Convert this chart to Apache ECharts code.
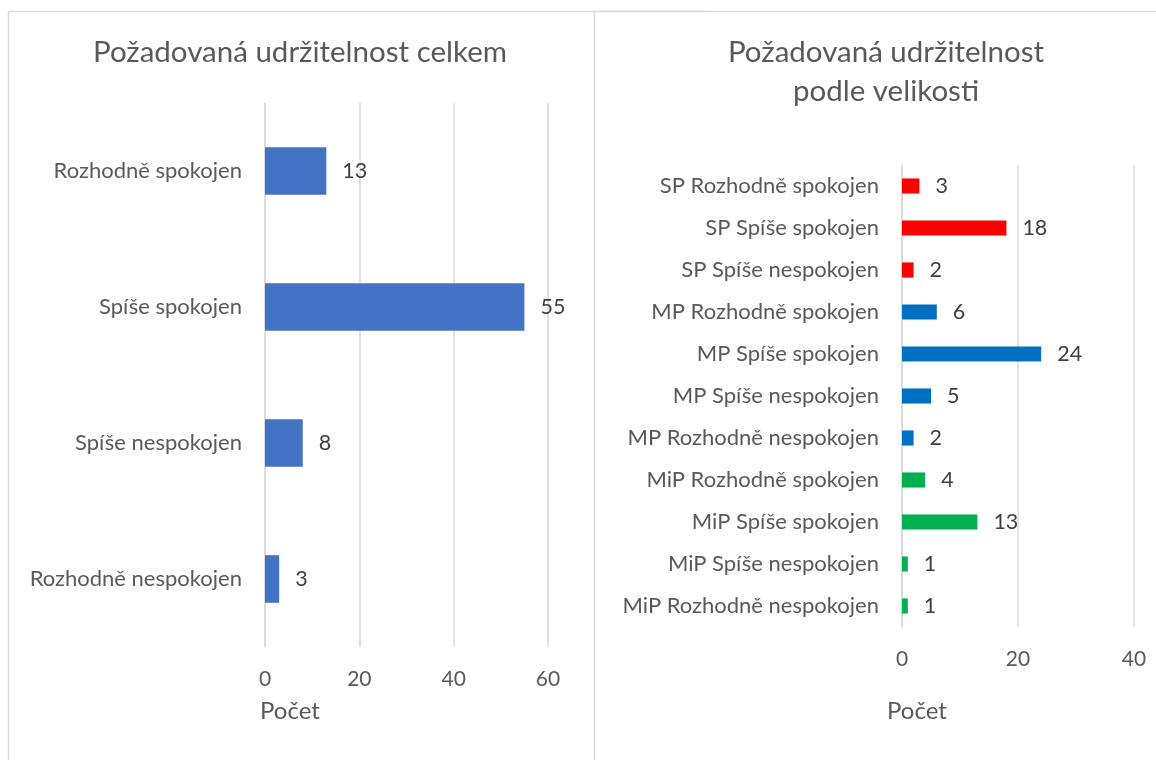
<!DOCTYPE html>
<html>
<head>
<meta charset="utf-8">
<script src="https://cdn.jsdelivr.net/npm/echarts@6/dist/echarts.min.js"></script>
<style>
  html, body { margin: 0; padding: 0; background: #fff; }
  #chart { width: 1156px; height: 760px; }
</style>
</head>
<body>
<div id="chart"></div>
<script>
// Overall satisfaction with required sustainability
const totalCategories = ['Rozhodně spokojen', 'Spíše spokojen', 'Spíše nespokojen', 'Rozhodně nespokojen'];
const totalValues = [13, 55, 8, 3];
const totalTicks = [0, 20, 40, 60];

// Satisfaction split by company size (SP / MP / MiP)
const sizeGroups = ['SP', 'SP', 'SP', 'MP', 'MP', 'MP', 'MP', 'MiP', 'MiP', 'MiP', 'MiP'];
const sizeAnswers = ['Rozhodně spokojen', 'Spíše spokojen', 'Spíše nespokojen',
                     'Rozhodně spokojen', 'Spíše spokojen', 'Spíše nespokojen', 'Rozhodně nespokojen',
                     'Rozhodně spokojen', 'Spíše spokojen', 'Spíše nespokojen', 'Rozhodně nespokojen'];
const sizeValues = [3, 18, 2, 6, 24, 5, 2, 4, 13, 1, 1];
const sizeTicks = [0, 20, 40];

const groupColors = { SP: '#FF0000', MP: '#0070C0', MiP: '#00B050' };
const FONT = 'Lato, "Open Sans", sans-serif';
const TEXT = '#595959';
const GRID = '#d9d9d9';

const sizeCategories = sizeGroups.map((g, i) => g + ' ' + sizeAnswers[i]);

const chart = echarts.init(document.getElementById('chart'), null, { renderer: 'canvas' });

function valueAxis(gridIndex, ticks) {
  return {
    type: 'value', gridIndex,
    min: ticks[0], max: ticks[ticks.length - 1], interval: ticks[1] - ticks[0],
    axisLine: { show: false }, axisTick: { show: false },
    splitLine: { show: true, lineStyle: { color: GRID, width: 1.5 } },
    axisLabel: { color: TEXT, fontFamily: FONT, fontSize: 21, margin: 22 }
  };
}

function categoryAxis(gridIndex, cats) {
  return {
    type: 'category', gridIndex, data: cats, inverse: true,
    axisLine: { show: true, lineStyle: { color: GRID, width: 1.5 } },
    axisTick: { show: false },
    axisLabel: { color: TEXT, fontFamily: FONT, fontSize: 22, margin: 23 }
  };
}

const valueLabel = {
  show: true, position: 'right', distance: 16,
  color: '#404040', fontFamily: FONT, fontSize: 21.5
};

chart.setOption({
  animation: false,
  backgroundColor: '#ffffff',
  title: [
    { text: 'Požadovaná udržitelnost celkem', left: 295, top: 32, textAlign: 'center',
      textStyle: { color: TEXT, fontFamily: FONT, fontSize: 29.5, fontWeight: 'normal' } },
    { text: 'Požadovaná udržitelnost\npodle velikosti', left: 881, top: 28, textAlign: 'center',
      textStyle: { color: TEXT, fontFamily: FONT, fontSize: 29.5, fontWeight: 'normal', lineHeight: 39 } }
  ],
  graphic: [
    { type: 'rect', shape: { x: 8.5, y: 11.5, width: 700, height: 800 },
      style: { fill: 'none', stroke: GRID, lineWidth: 1.5 }, z: -1 },
    { type: 'rect', shape: { x: 594.5, y: 11.5, width: 700, height: 800 },
      style: { fill: '#fff', stroke: GRID, lineWidth: 1.5 }, z: -1 },
    { type: 'text', left: 260, top: 699,
      style: { text: 'Počet', fill: TEXT, font: '24px ' + FONT } },
    { type: 'text', left: 887, top: 699,
      style: { text: 'Počet', fill: TEXT, font: '24px ' + FONT } }
  ],
  grid: [
    { left: 265, top: 103, width: 283, height: 544 },
    { left: 902, top: 165, width: 232, height: 462 }
  ],
  xAxis: [valueAxis(0, totalTicks), valueAxis(1, sizeTicks)],
  yAxis: [categoryAxis(0, totalCategories), categoryAxis(1, sizeCategories)],
  series: [
    { type: 'bar', xAxisIndex: 0, yAxisIndex: 0, barWidth: '35%',
      data: totalValues, itemStyle: { color: '#4472C4' }, label: valueLabel },
    { type: 'bar', xAxisIndex: 1, yAxisIndex: 1, barWidth: '36%',
      data: sizeValues.map((v, i) => ({ value: v, itemStyle: { color: groupColors[sizeGroups[i]] } })),
      label: valueLabel }
  ]
});
</script>
</body>
</html>
